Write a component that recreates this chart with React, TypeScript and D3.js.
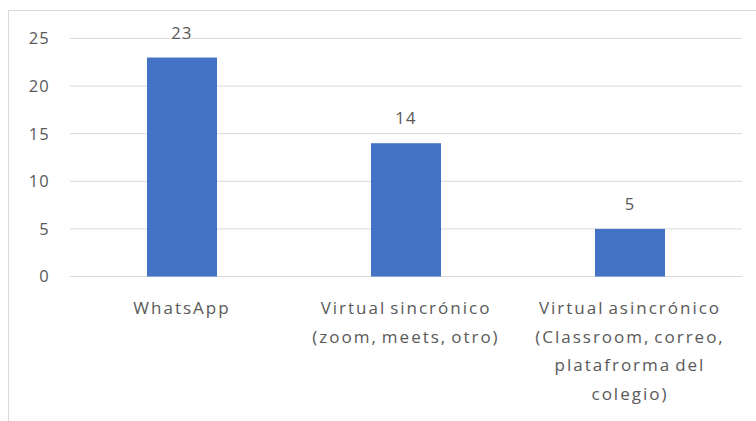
import * as d3 from "d3";
import React from "react";

const categories = ["WhatsApp", "Virtual sincrónico", "Virtual asincrónico"];
const categoryLines = [
	["WhatsApp"],
	["Virtual sincrónico", "(zoom, meets, otro)"],
	["Virtual asincrónico", "(Classroom, correo,", "platafrorma del", "colegio)"],
];
const values = [23, 14, 5];
const yTicks = [0, 5, 10, 15, 20, 25];

const width = 756;
const height = 421;
const margin = { top: 38.5, right: 14, bottom: 144.5, left: 70 };
const textColor = "#595959";
const gridColor = "#d9d9d9";
const font = "'Open Sans', sans-serif";

export default function App() {
	const svgRef = React.useRef<SVGSVGElement>(null);

	React.useEffect(() => {
		if (!svgRef.current) return;
		const svg = d3.select(svgRef.current);
		svg.selectAll("*").remove();

		const x = d3
			.scaleBand<string>()
			.domain(categories)
			.range([margin.left, width - margin.right])
			.paddingInner(0.6875)
			.paddingOuter(0.34375);
		const y = d3
			.scaleLinear()
			.domain([0, 25])
			.range([height - margin.bottom, margin.top]);

		// chart area border (only top/left visible in frame)
		svg
			.append("line")
			.attr("x1", 8.5)
			.attr("x2", width)
			.attr("y1", 10.5)
			.attr("y2", 10.5)
			.attr("stroke", gridColor);
		svg
			.append("line")
			.attr("x1", 8.5)
			.attr("x2", 8.5)
			.attr("y1", 10.5)
			.attr("y2", height)
			.attr("stroke", gridColor);

		// gridlines
		svg
			.append("g")
			.selectAll("line")
			.data(yTicks)
			.join("line")
			.attr("x1", margin.left)
			.attr("x2", width - margin.right)
			.attr("y1", (d) => y(d))
			.attr("y2", (d) => y(d))
			.attr("stroke", gridColor)
			.attr("stroke-width", 1);

		// y tick labels
		svg
			.append("g")
			.selectAll("text")
			.data(yTicks)
			.join("text")
			.attr("x", 50)
			.attr("y", (d) => y(d))
			.attr("dy", "0.36em")
			.attr("text-anchor", "end")
			.attr("fill", textColor)
			.attr("font-family", font)
			.attr("font-size", 16.5)
			.attr("letter-spacing", 1.2)
			.text((d) => d);

		// bars
		svg
			.append("g")
			.selectAll("rect")
			.data(values)
			.join("rect")
			.attr("x", (_, i) => x(categories[i]) as number)
			.attr("y", (d) => y(d))
			.attr("width", x.bandwidth())
			.attr("height", (d) => y(0) - y(d))
			.attr("fill", "#4472C4");

		// value labels
		svg
			.append("g")
			.selectAll("text")
			.data(values)
			.join("text")
			.attr("x", (_, i) => (x(categories[i]) as number) + x.bandwidth() / 2)
			.attr("y", (d) => y(d) - 19)
			.attr("text-anchor", "middle")
			.attr("fill", textColor)
			.attr("font-family", font)
			.attr("font-size", 16.5)
			.attr("letter-spacing", 1.2)
			.text((d) => d);

		// category labels
		const cats = svg
			.append("g")
			.selectAll("text")
			.data(categoryLines)
			.join("text")
			.attr("x", (_, i) => (x(categories[i]) as number) + x.bandwidth() / 2)
			.attr("y", 314)
			.attr("text-anchor", "middle")
			.attr("fill", textColor)
			.attr("font-family", font)
			.attr("font-size", 17)
			.attr("letter-spacing", 2)
			.attr("word-spacing", -2.5);
		cats
			.selectAll("tspan")
			.data((d) => d)
			.join("tspan")
			.attr("x", function () {
				return (this.parentNode as SVGTextElement).getAttribute("x");
			})
			.attr("dy", (_, i) => (i === 0 ? 0 : 28.5))
			.text((d) => d);
	}, []);

	return (
		<svg
			ref={svgRef}
			width={width}
			height={height}
			style={{ position: "absolute", left: 0, top: 0, background: "#fff" }}
		/>
	);
}
